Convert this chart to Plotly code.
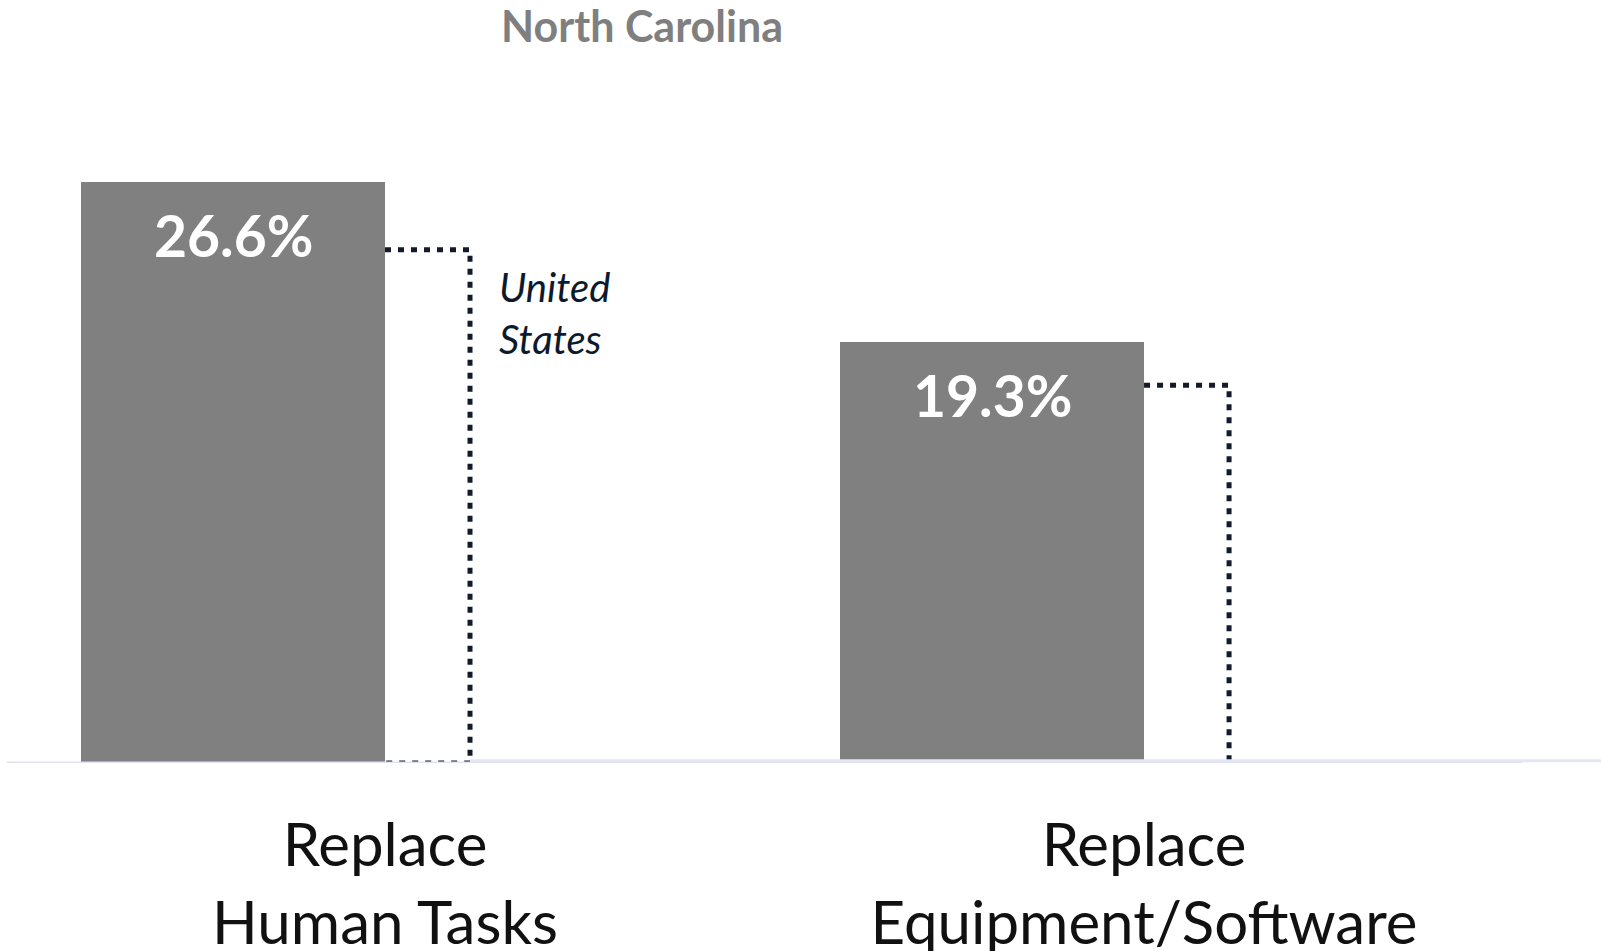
import plotly.graph_objects as go

# data
categories = ["Replace<br>Human Tasks", "Replace<br>Equipment/Software"]
nc_values = [26.6, 19.3]
us_values = [23.5, 17.3]
nc_name = "North Carolina"
us_name = "United States"

x_pos = list(range(len(categories)))

NC_WIDTH = 0.4     # NC bar sits left of the category centre
US_WIDTH = 0.112   # dotted US outline to the right of it
FONT = "Lato"

fig = go.Figure()

fig.add_trace(go.Bar(
    x=x_pos, y=nc_values, width=NC_WIDTH, offset=-NC_WIDTH,
    marker=dict(color="#808080", line=dict(width=0)),
    name=nc_name, hoverinfo="y",
))

# dotted outline for the US benchmark, one per category
for x, v in zip(x_pos, us_values):
    fig.add_trace(go.Scatter(
        x=[x, x + US_WIDTH, x + US_WIDTH, x],
        y=[v, v, 0, 0],
        mode="lines",
        line=dict(color="#141a2a", width=5, dash="6px,7px"),
        name=us_name, showlegend=False, hoverinfo="skip",
    ))

# value labels inside the bars
for x, v in zip(x_pos, nc_values):
    fig.add_annotation(
        x=x - NC_WIDTH / 2, y=v, text=f"<b>{v:.1f}%</b>",
        showarrow=False, yanchor="middle", yshift=-53,
        font=dict(family=FONT, size=57, color="white"),
    )

# series labels
fig.add_annotation(
    xref="paper", yref="paper", x=0.401, y=1, yanchor="top", yshift=2,
    text=f"<b>{nc_name}</b>", showarrow=False,
    font=dict(family=FONT, size=43, color="#7f7f7f"),
)
for i, word in enumerate(us_name.split()):
    fig.add_annotation(
        x=x_pos[0] + US_WIDTH + 0.036, y=nc_values[0], xanchor="left",
        yanchor="middle", yshift=-105 - 52 * i,
        text=f"<i>{word}</i>", showarrow=False,
        font=dict(family=FONT, size=40, color="#0d1a2e"),
    )

# light baseline
fig.add_shape(type="line", xref="x", yref="y", x0=-0.498, x1=1.498, y0=0, y1=0,
              line=dict(color="#dfe1f3", width=3))
fig.add_shape(type="line", xref="x", yref="y", x0=US_WIDTH, x1=1.61, y0=0.1, y1=0.1,
              line=dict(color="#e4e6f5", width=3))

fig.update_xaxes(
    range=[-0.5072, 1.602], tickvals=x_pos, ticktext=categories,
    showgrid=False, zeroline=False, showline=False, ticks="",
    ticklabelstandoff=42, automargin=False,
    tickfont=dict(family=FONT, size=60, color="#111111"),
)
fig.update_yaxes(range=[0, 34.94], visible=False, automargin=False)

fig.update_layout(
    width=1601, height=951,
    margin=dict(l=0, r=0, t=0, b=188),
    plot_bgcolor="white", paper_bgcolor="white",
    showlegend=False, bargap=0,
)

# drop the default body margin so the figure fills the window exactly
fig.write_html("out.html", config={"displayModeBar": False},
               post_script="document.body.style.margin='0';")
